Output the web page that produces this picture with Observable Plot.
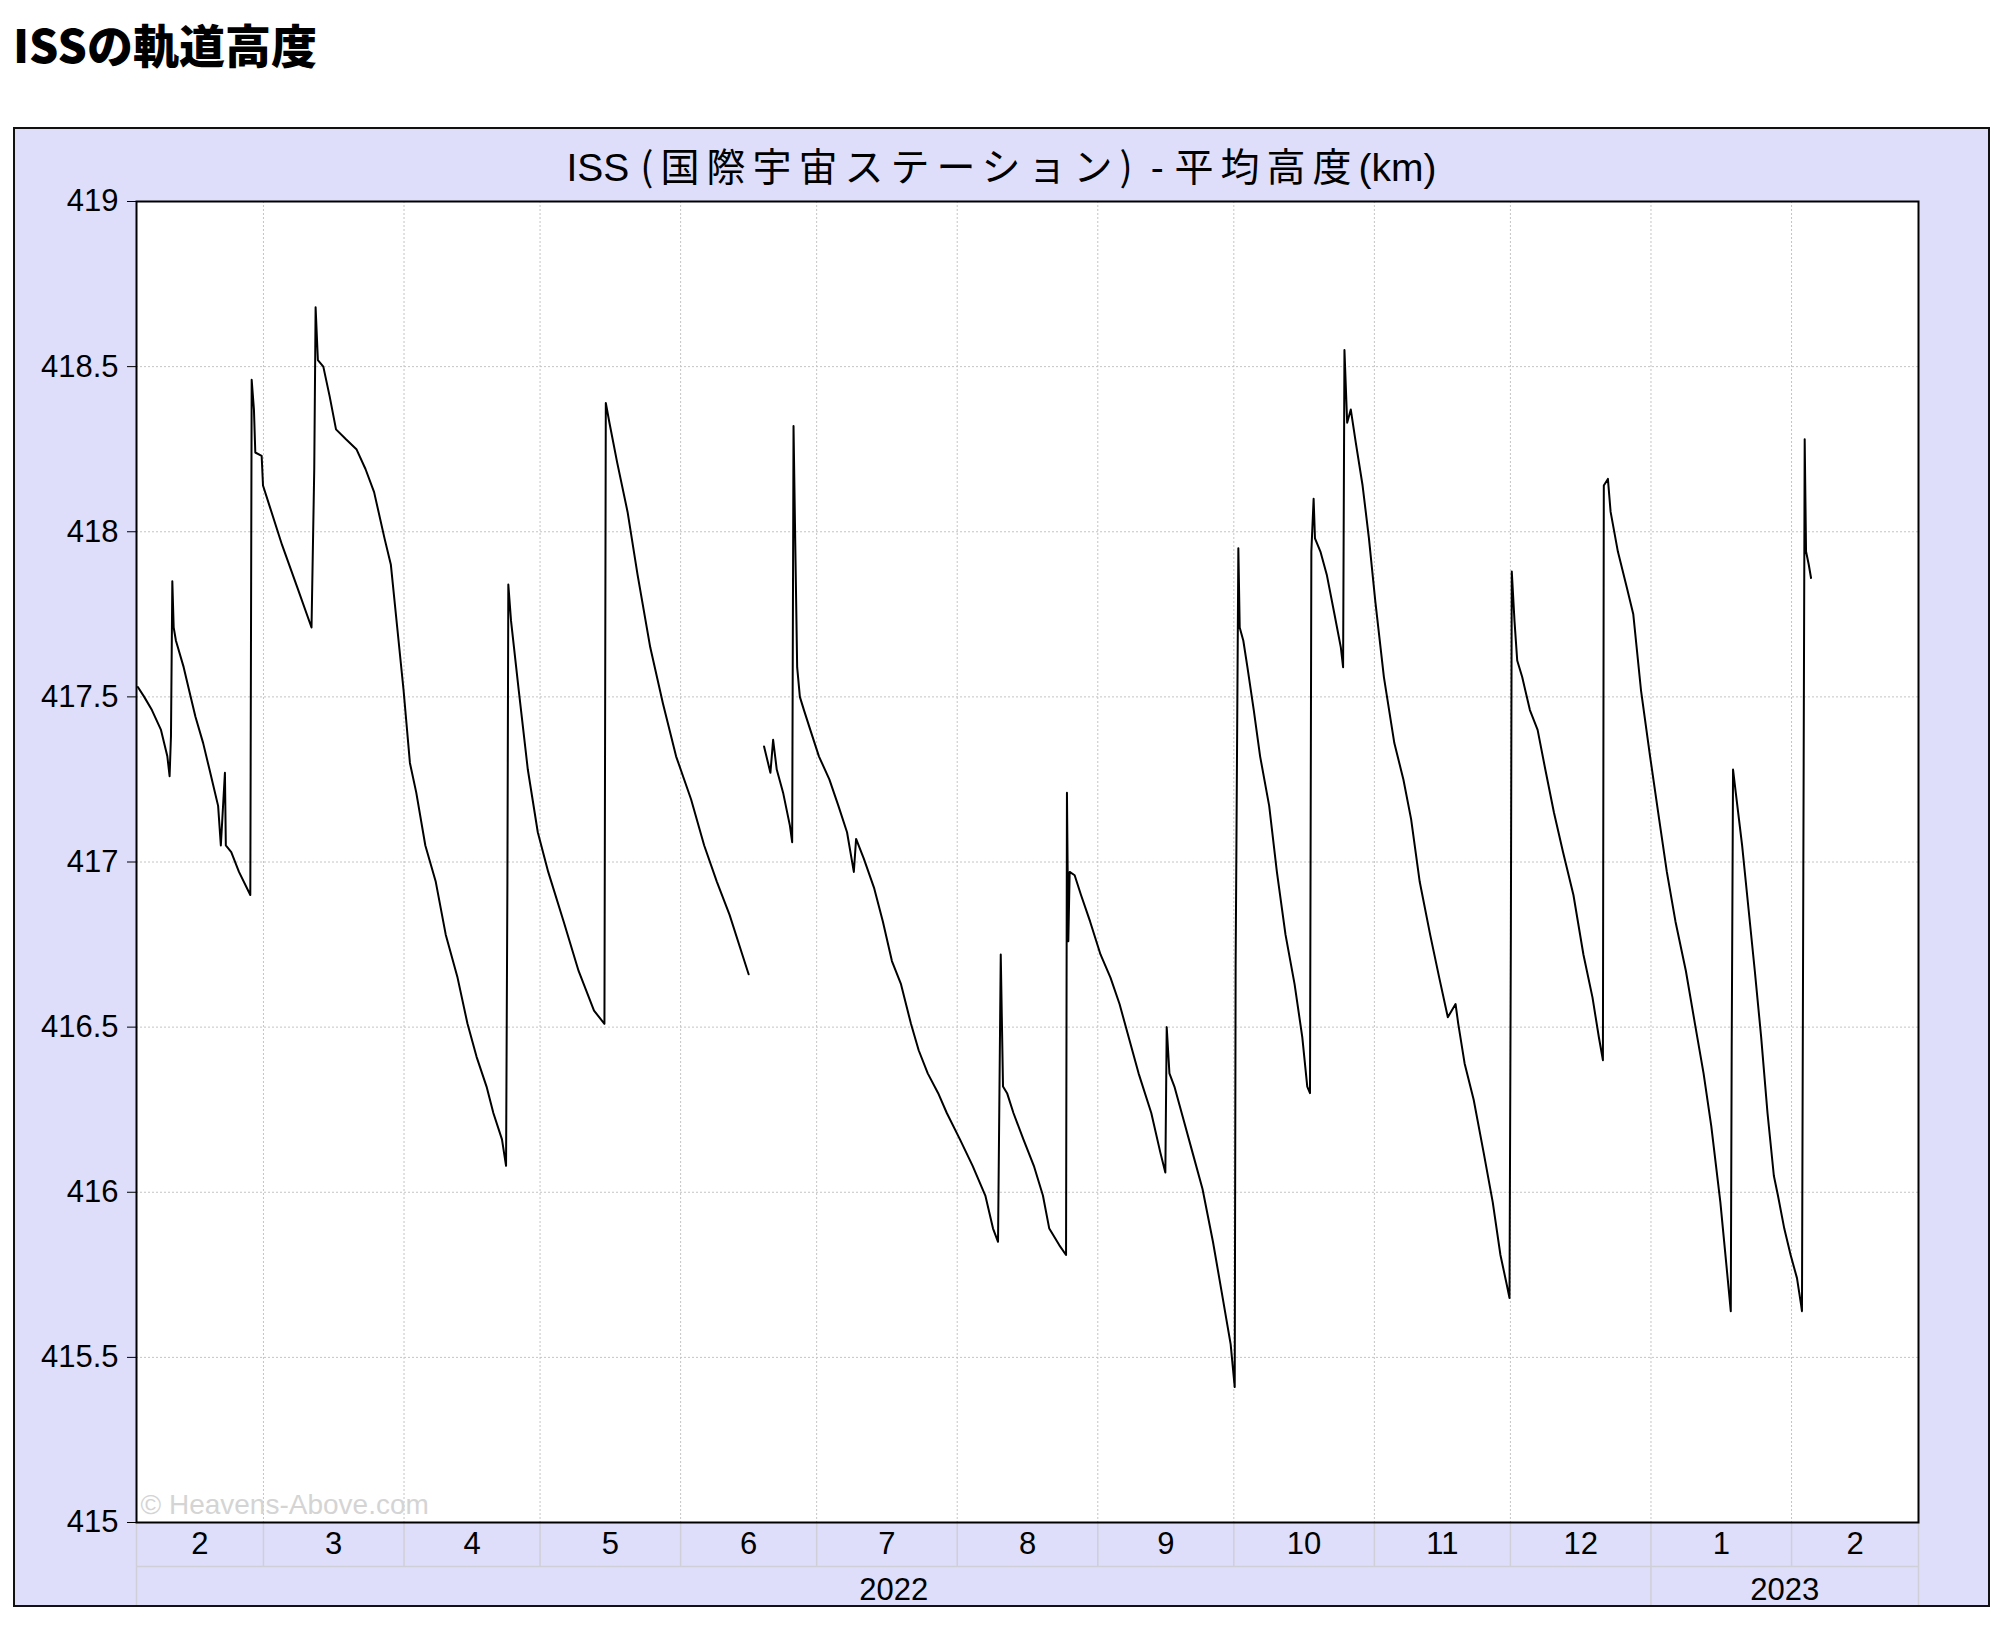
<!DOCTYPE html>
<html>
<head>
<meta charset="utf-8">
<script src="https://cdn.jsdelivr.net/npm/d3@7"></script>
<script src="https://cdn.jsdelivr.net/npm/@observablehq/plot@0.6"></script>
<style>
  html, body { margin: 0; padding: 0; background: #fff; }
  body { width: 2005px; height: 1627px; position: relative; overflow: hidden; }
  #pagetitle {
    position: absolute; left: 13px; top: -4px; height: 94px; line-height: 94px;
    font-family: "Noto Sans CJK JP", "Liberation Sans", sans-serif; font-weight: 900; font-size: 46px; color: #000;
    white-space: nowrap;
  }
  #frame {
    position: absolute; left: 13px; top: 127px; width: 1973px; height: 1476px;
    border: 2px solid #111; background: #dedefb;
  }
  #ctitle {
    position: absolute; left: 0; top: 0; width: 100%; height: 72px; line-height: 70px; text-align: center;
    font-family: "Liberation Sans", "Noto Sans CJK JP", sans-serif; font-size: 39px; color: #000; white-space: nowrap;
  }
  #ctitle .jp { font-family: "Noto Sans CJK JP", sans-serif; font-size: 39px; letter-spacing: 7px; }
  #chart { position: absolute; left: 0; top: 0; }
</style>
</head>
<body>
<div id="pagetitle">ISSの軌道高度</div>
<div id="frame">
  <div id="chart"></div>
  <div id="ctitle">ISS <span class="jp">(国際宇宙ステーション)</span> - <span class="jp">平均高度</span>(km)</div>
</div>
<script>
// ---- data ----
// days since 2022-02-01 (UTC)
const dayOffsets = [
  0.3,1.7,3.4,5.4,6.8,7.3,7.6,7.9,8.2,8.7,
  10.4,11.6,13.0,14.7,16.1,18.0,18.6,19.5,19.7,20.9,
  22.6,25.1,25.4,25.9,26.2,27.6,27.9,29.3,32.1,35.5,
  38.6,39.2,39.5,40.0,41.2,42.6,44.0,46.2,48.5,50.5,
  52.4,54.7,56.1,57.5,58.9,60.3,61.7,63.7,66.0,68.2,
  70.8,73.0,75.0,77.2,78.7,80.6,81.5,81.8,82.0,82.6,
  84.3,86.3,88.5,90.8,94.2,97.5,100.9,103.2,103.5,104.3,
  106.0,108.3,110.5,113.3,116.1,119.0,122.3,125.2,128.0,130.8,
  133.6,135.0,136.7,138.4,139.8,140.4,141.2,142.6,144.1,144.6,
  144.9,145.2,145.7,146.3,147.2,148.6,150.5,152.8,154.8,156.7,
  158.2,158.7,160.4,162.7,164.6,166.6,168.6,170.8,172.5,174.5,
  176.8,178.7,181.6,184.4,187.2,188.9,190.0,190.6,191.1,192.0,
  193.4,195.6,197.9,199.9,201.3,203.5,205.0,205.2,205.5,205.8,
  206.9,208.3,210.3,212.6,214.8,216.8,218.8,221.0,223.8,225.8,
  226.9,227.2,227.8,228.9,230.9,232.9,235.1,237.4,239.3,241.3,
  242.2,242.4,243.0,243.3,244.1,245.0,246.4,247.8,249.8,251.5,
  253.4,255.4,257.1,258.2,258.8,259.1,259.6,259.9,261.1,262.5,
  264.2,265.6,266.1,266.4,267.0,267.8,268.9,270.4,271.8,273.2,
  275.1,277.4,279.4,281.1,283.0,285.3,287.3,289.2,290.9,291.5,
  292.9,294.9,297.1,299.1,300.8,302.2,302.8,303.1,303.3,303.9,
  304.5,305.6,307.3,309.0,310.7,312.6,314.6,316.9,319.1,321.1,
  322.5,323.4,323.6,324.5,325.1,326.7,328.7,330.1,331.8,333.8,
  335.8,337.5,339.4,341.7,343.7,345.6,347.3,349.3,350.7,351.6,
  351.8,352.1,352.7,354.1,355.5,356.9,358.3,359.7,361.1,362.0,
  363.4,364.8,366.2,367.1,367.3,367.6,367.9,368.2,368.8,369.3
];
// mean altitude (km); null = gap in the record
const altitudeKm = [
  417.53,417.50,417.46,417.40,417.32,417.26,417.38,417.85,417.71,417.67,
  417.59,417.52,417.44,417.36,417.28,417.17,417.05,417.27,417.05,417.03,
  416.97,416.90,418.46,418.37,418.24,418.23,418.14,418.08,417.96,417.83,
  417.71,418.19,418.68,418.52,418.50,418.41,418.31,418.28,418.25,418.19,
  418.12,417.98,417.90,417.71,417.52,417.30,417.21,417.05,416.94,416.78,
  416.65,416.51,416.41,416.32,416.24,416.16,416.08,416.94,417.84,417.73,
  417.52,417.28,417.09,416.97,416.82,416.67,416.55,416.51,418.39,418.33,
  418.21,418.06,417.87,417.65,417.48,417.32,417.19,417.05,416.94,416.84,
  416.72,416.66,null,417.35,417.27,417.37,417.28,417.21,417.11,417.06,
  418.32,418.04,417.59,417.50,417.46,417.40,417.32,417.25,417.17,417.09,
  416.97,417.07,417.01,416.92,416.82,416.70,416.63,416.51,416.43,416.36,
  416.30,416.24,416.16,416.08,415.99,415.89,415.85,416.72,416.32,416.30,
  416.24,416.16,416.08,415.99,415.89,415.84,415.81,417.21,416.76,416.97,
  416.96,416.90,416.82,416.72,416.65,416.57,416.47,416.36,416.24,416.12,
  416.06,416.50,416.36,416.32,416.22,416.12,416.01,415.85,415.70,415.54,
  415.41,416.68,417.95,417.71,417.67,417.59,417.46,417.32,417.17,416.97,
  416.78,416.63,416.47,416.32,416.30,417.94,418.10,417.98,417.94,417.87,
  417.75,417.65,417.59,418.55,418.33,418.37,418.27,418.14,417.98,417.79,
  417.56,417.36,417.25,417.13,416.94,416.78,416.65,416.53,416.57,416.51,
  416.39,416.28,416.12,415.97,415.81,415.72,415.68,416.78,417.88,417.73,
  417.61,417.56,417.46,417.40,417.28,417.15,417.03,416.90,416.72,416.59,
  416.47,416.40,418.14,418.16,418.06,417.94,417.83,417.75,417.52,417.32,
  417.13,416.97,416.82,416.67,416.51,416.36,416.20,415.97,415.77,415.64,
  416.43,417.28,417.21,417.05,416.86,416.67,416.47,416.24,416.05,415.99,
  415.89,415.81,415.74,415.66,415.64,416.97,418.28,417.94,417.90,417.86
];
const startDate = "2022-02-01";
const monthEdgeStrings = [
  "2022-02-01","2022-03-01","2022-04-01","2022-05-01","2022-06-01","2022-07-01","2022-08-01",
  "2022-09-01","2022-10-01","2022-11-01","2022-12-01","2023-01-01","2023-02-01","2023-03-01"
];
const monthLabels = ["2","3","4","5","6","7","8","9","10","11","12","1","2"];
const yearLabels = ["2022","2023"];
const yearEdgeStrings = ["2022-02-01","2023-01-01","2023-03-01"];
const yTicks = [415, 415.5, 416, 416.5, 417, 417.5, 418, 418.5, 419];
const watermark = "© Heavens-Above.com";

// ---- build ----
const base = new Date(startDate).getTime();
const data = dayOffsets.map((d, i) => ({date: new Date(base + d * 864e5), alt: altitudeKm[i]}));
const monthEdges = monthEdgeStrings.map(s => new Date(s));
const yearEdges = yearEdgeStrings.map(s => new Date(s));
const months = monthLabels.map((t, i) => ({
  text: t, mid: new Date((monthEdges[i].getTime() + monthEdges[i + 1].getTime()) / 2)
}));
const years = yearLabels.map((t, i) => ({
  text: t, mid: new Date((yearEdges[i].getTime() + yearEdges[i + 1].getTime()) / 2)
}));

const W = 1973, H = 1476, ML = 121, MT = 72, MR = 70, MB = 83;
const yMin = 415, yMax = 419;
const pxPerUnit = (H - MT - MB) / (yMax - yMin);
const monthBandY = yMin - 44 / pxPerUnit;
const bandBottomY = yMin - MB / pxPerUnit;
const font = '"Liberation Sans", Arial, sans-serif';
const bandStroke = "#cfcfd8";
const gridStroke = "#c4c4c4";

const chart = Plot.plot({
  width: W, height: H,
  marginLeft: ML, marginTop: MT, marginRight: MR, marginBottom: MB,
  style: {background: "transparent", fontFamily: font, fontSize: "31px", color: "#000", overflow: "visible"},
  x: {type: "utc", domain: [monthEdges[0], monthEdges[monthEdges.length - 1]], axis: null},
  y: {domain: [yMin, yMax], axis: null},
  marks: [
    Plot.frame({fill: "#fff", stroke: "none"}),
    Plot.gridY(yTicks, {stroke: gridStroke, strokeOpacity: 1, strokeDasharray: "2,2", strokeWidth: 1}),
    Plot.gridX(monthEdges.slice(1, -1), {stroke: gridStroke, strokeOpacity: 1, strokeDasharray: "2,2", strokeWidth: 1}),
    Plot.text([watermark], {frameAnchor: "bottom-left", dx: 4, dy: -9, textAnchor: "start", fill: "#d4d4d4", fontSize: 28}),
    Plot.line(data, {x: "date", y: "alt", stroke: "#000", strokeWidth: 2}),
    // date bands below the plot
    Plot.ruleX(monthEdges, {y1: yMin, y2: monthBandY, stroke: bandStroke, strokeWidth: 1.5}),
    Plot.ruleX(yearEdges, {y1: monthBandY, y2: bandBottomY, stroke: bandStroke, strokeWidth: 1.5}),
    Plot.ruleY([monthBandY], {x1: monthEdges[0], x2: monthEdges[monthEdges.length - 1], stroke: bandStroke, strokeWidth: 1.5}),
    Plot.text(months, {x: "mid", text: "text", frameAnchor: "bottom", dy: 31, fontSize: 31, fill: "#000"}),
    Plot.text(years, {x: "mid", text: "text", frameAnchor: "bottom", dy: 77, fontSize: 31, fill: "#000"}),
    Plot.frame({stroke: "#000", strokeWidth: 2}),
    Plot.axisY(yTicks, {tickSize: 9, tickPadding: 9, tickFormat: d => String(d), fontSize: 31, label: null, stroke: "#000"})
  ]
});
document.getElementById("chart").appendChild(chart);
</script>
</body>
</html>
